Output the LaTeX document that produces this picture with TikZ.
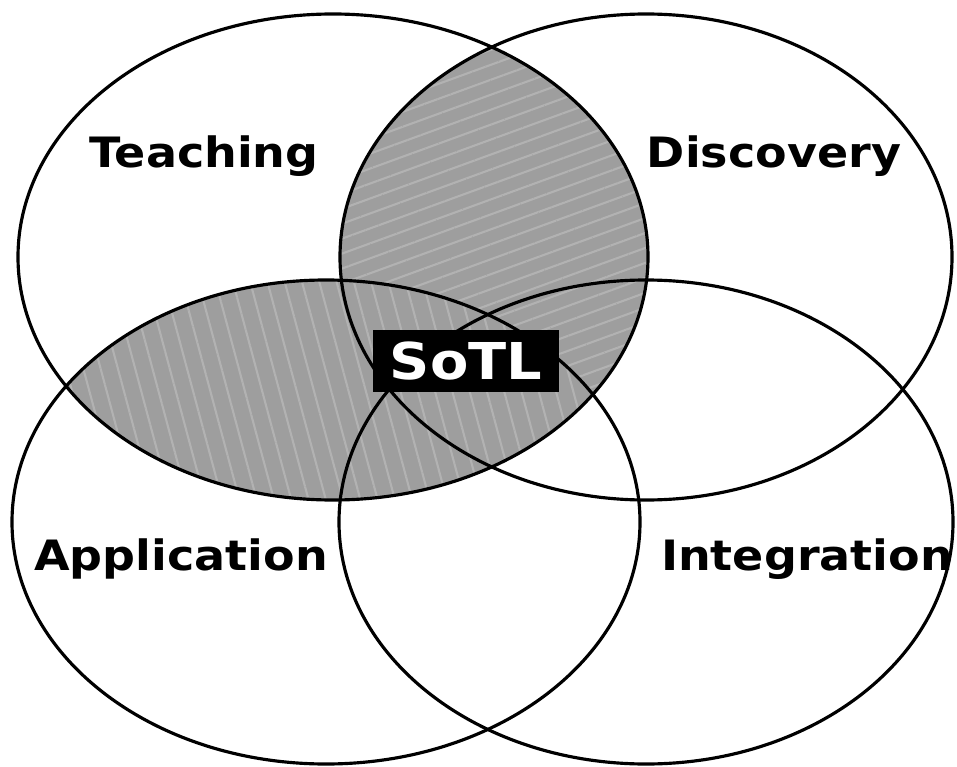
\documentclass[tikz,border=0pt]{standalone}
\usepackage{fontspec}
\setmainfont{DejaVu Sans}
\usetikzlibrary{patterns.meta}

\newcommand{\widetxt}[1]{\scalebox{1.1}[1]{#1}}

\tikzset{
  ring/.style={line width=1.8pt},
  lens/.style={preaction={fill=black!38}, pattern color=black!30},
  setname/.style={font=\fontsize{23.8}{26}\bfseries, anchor=base, inner sep=0pt},
  corebox/.style={fill=black, text=white, font=\fontsize{28.9}{31}\bfseries,
    minimum width=106pt, minimum height=35.7pt, inner sep=0pt}
}

\begin{document}
\begin{tikzpicture}[x=0.02cm, y=-0.02cm]
  \useasboundingbox (0,0) rectangle (957,767);

  % centres of the four sets
  \coordinate (teachC) at (333,257);
  \coordinate (discC) at (646,257);
  \coordinate (applC) at (326,522);
  \coordinate (integC) at (646,522);

  % overlaps with Teaching
  \begin{scope}
    \clip (teachC) ellipse [x radius=315, y radius=243];
    \path[lens, pattern={Lines[angle=20, distance=8pt, line width=1.2pt]}]
      (discC) ellipse [x radius=306, y radius=243];
    \path[lens, pattern={Lines[angle=-75, distance=9.5pt, line width=1.2pt]}]
      (applC) ellipse [x radius=314, y radius=242];
  \end{scope}

  % the four sets
  \draw[ring] (teachC) ellipse [x radius=315, y radius=243];
  \draw[ring] (discC) ellipse [x radius=306, y radius=243];
  \draw[ring] (applC) ellipse [x radius=314, y radius=242];
  \draw[ring] (integC) ellipse [x radius=307, y radius=242];

  \node[corebox] (sotl) at (466,361) {\widetxt{SoTL}};

  \node[setname] (teach) at (204,168) {\widetxt{Teaching}};
  \node[setname] (disc) at (774,168) {\widetxt{Discovery}};
  \node[setname] (appl) at (181,570) {\widetxt{Application}};
  \node[setname] (integ) at (807,570) {\widetxt{Integration}};
\end{tikzpicture}
\end{document}
